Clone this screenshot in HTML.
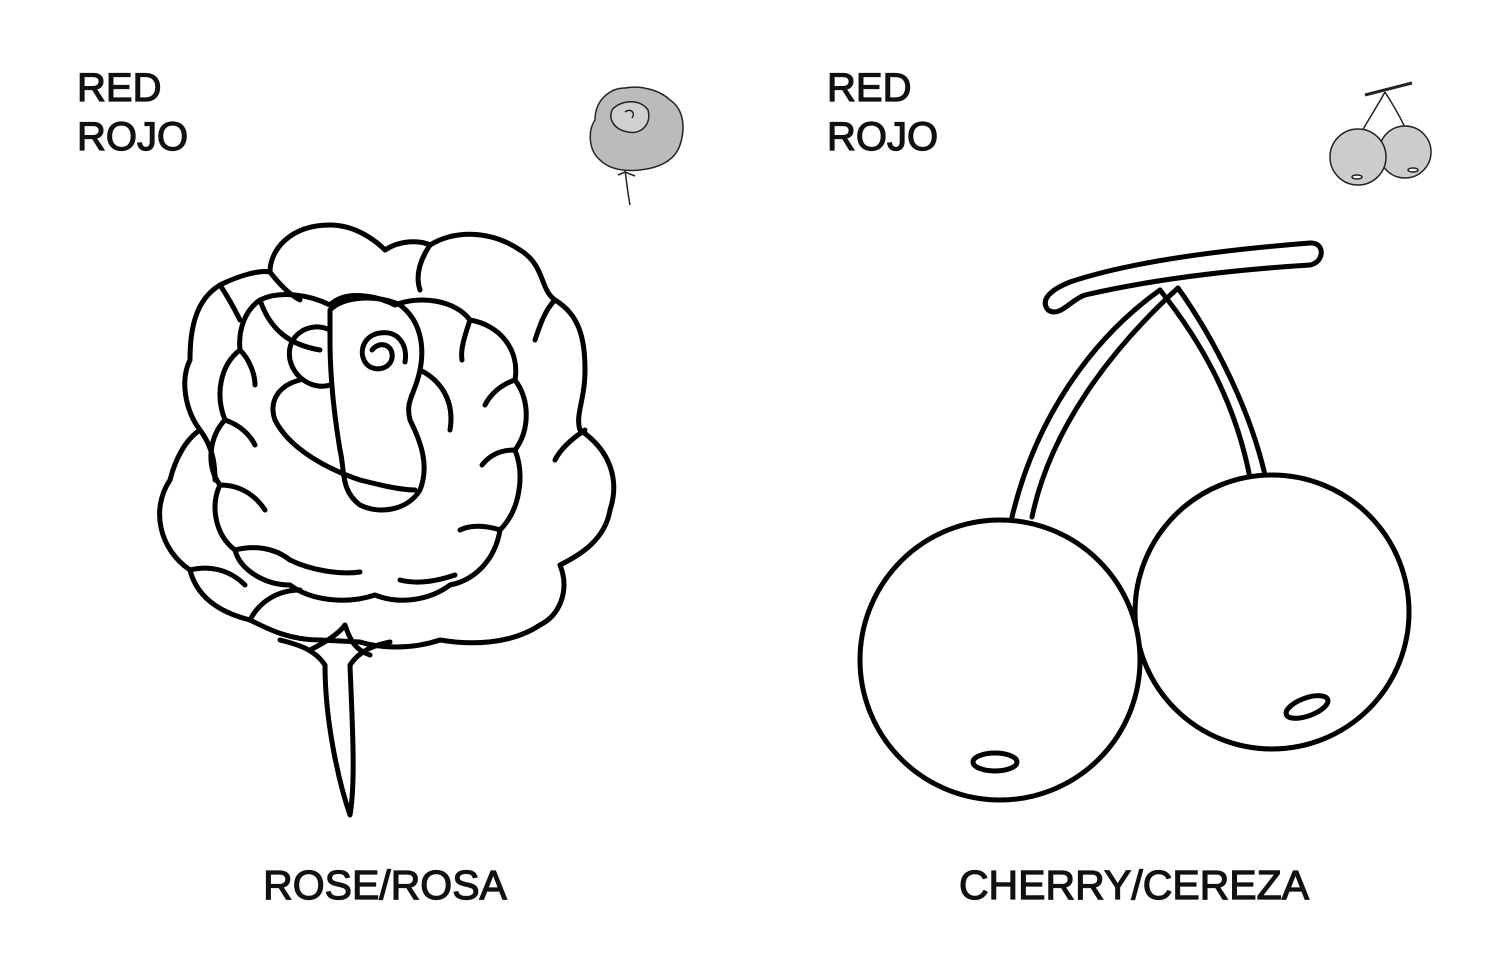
<!DOCTYPE html>
<html><head><meta charset="utf-8"><style>
html,body{margin:0;padding:0;background:#fff;}
svg{display:block;}
text{font-family:"Liberation Sans",Arial,sans-serif;font-weight:normal;fill:#111;stroke:#111;stroke-width:1.2;}
</style></head><body>
<svg width="1500" height="970" viewBox="0 0 1500 970" xmlns="http://www.w3.org/2000/svg">
<text x="77" y="101" font-size="40">RED</text>
<text x="77" y="150" font-size="40">ROJO</text>
<text x="827" y="101" font-size="40">RED</text>
<text x="827" y="150" font-size="40">ROJO</text>
<text x="385" y="899" font-size="41" text-anchor="middle">ROSE/ROSA</text>
<text x="1134" y="899" font-size="41" text-anchor="middle">CHERRY/CEREZA</text>

<!-- Rose -->
<g fill="none" stroke="#000" stroke-width="5" stroke-linecap="round" stroke-linejoin="round">
<path d="M320 640 C290 640 270 630 250 620 C210 610 195 590 190 570 C160 550 150 510 170 480 C175 460 185 440 200 430 C185 410 180 380 190 360 C190 330 195 300 220 285 C240 275 260 270 270 272 C270 250 290 225 330 225 C355 225 375 240 385 250 C400 240 420 240 430 245 C455 230 490 230 520 250 C545 265 540 290 555 300 C580 315 585 340 585 370 C585 400 575 415 580 430 C610 450 620 480 610 510 C605 540 580 555 560 565 C570 590 560 615 540 625 C510 645 470 645 440 640 C410 650 380 648 360 642 Z"/>
<path d="M200 430 C215 450 215 470 215 480"/>
<path d="M220 285 C230 300 235 310 240 320"/>
<path d="M270 272 C280 285 290 295 300 300"/>
<path d="M430 245 C420 260 415 275 420 290"/>
<path d="M555 300 C545 310 540 325 535 340"/>
<path d="M585 430 C570 440 560 450 555 460"/>
<path d="M190 570 C210 565 230 570 245 585"/>
<path d="M250 620 C260 600 280 590 300 590"/>
<path d="M260 300 C280 290 310 295 330 305 C345 290 375 295 395 305 C420 295 455 300 470 320 C500 325 520 350 515 380 C530 400 530 430 515 450 C525 475 520 510 500 530 C495 560 475 580 450 585 C430 600 400 605 375 595 C345 605 310 600 290 585 C265 585 240 570 235 550 C215 535 210 505 220 485 C205 465 210 435 225 420 C215 395 220 365 240 350 C238 330 245 310 260 300 Z"/>
<path d="M240 350 C250 360 255 375 255 385"/>
<path d="M225 420 C240 425 250 435 255 445"/>
<path d="M220 485 C240 485 255 495 265 510"/>
<path d="M235 550 C255 545 275 548 290 560"/>
<path d="M470 320 C465 335 460 350 462 360"/>
<path d="M515 380 C500 385 490 395 485 405"/>
<path d="M515 450 C500 450 490 455 482 465"/>
<path d="M500 530 C485 525 470 525 460 530"/>
<path d="M330 310 C345 295 380 295 400 305 C420 320 425 345 420 370 C415 395 405 400 410 420 C420 440 430 465 420 490 C408 510 380 515 360 505 C340 490 345 470 340 450 C335 420 330 380 330 340 Z"/>
<path d="M260 300 C270 330 290 345 320 350"/>
<path d="M300 380 C280 385 268 400 275 420 C290 450 330 470 360 480 C380 485 400 490 415 490"/>
<path d="M330 330 C310 320 285 335 290 360 C295 380 315 390 330 385"/>
<path d="M420 370 C440 380 455 400 450 430"/>
<path d="M372 350 C380 340 394 345 392 358 C390 370 372 373 365 362 C358 350 365 335 380 333 C398 330 408 345 405 362"/>
<path d="M290 560 C310 570 340 575 360 572"/>
<path d="M400 580 C420 585 440 580 455 575"/>
<path d="M280 640 C300 645 315 650 325 665 C325 720 338 780 350 815 C356 780 352 720 350 665 C360 650 375 645 390 642"/>
<path d="M310 650 C330 640 340 632 345 625 C350 640 355 650 370 655"/>
</g>

<!-- Cherries -->
<g fill="none" stroke="#000" stroke-width="5" stroke-linecap="round" stroke-linejoin="round">
<path d="M1048 310 C1040 300 1050 290 1070 282 C1130 262 1220 250 1310 243 C1325 242 1325 262 1310 265 C1230 270 1150 280 1085 295 C1070 300 1060 318 1048 310 Z"/>
<path d="M1160 290 C1090 340 1035 420 1012 517"/>
<path d="M1178 288 C1110 350 1050 430 1032 517"/>
<path d="M1160 290 C1200 340 1235 400 1250 478"/>
<path d="M1178 288 C1215 340 1250 410 1265 475"/>
<circle cx="1272" cy="612" r="137" fill="#fff"/>
<circle cx="1000" cy="660" r="140" fill="#fff"/>
<ellipse cx="995" cy="762" rx="22" ry="9"/>
<ellipse cx="1307" cy="707" rx="22" ry="9" transform="rotate(-20 1307 707)"/>
</g>

<g stroke="#222" stroke-width="1.5" fill="#bbb">
<path d="M600 160 C588 150 588 130 595 120 C595 100 610 88 625 88 C640 85 660 90 670 100 C685 110 685 130 680 145 C675 160 660 168 640 170 C620 172 608 168 600 160 Z"/>
<path d="M612 110 C620 100 640 98 648 110 C652 125 640 135 628 132 C615 130 608 120 612 110 Z" fill="#d0d0d0"/>
<path d="M625 112 C630 108 636 112 632 118" fill="none"/>
<path d="M625 170 C627 185 628 195 630 205" fill="none"/>
<path d="M618 175 L625 172 L635 176" fill="none"/>
</g>
<g stroke="#222" stroke-width="1.5">
<path d="M1365 95 L1412 83" fill="none" stroke-width="3"/>
<path d="M1385 92 C1375 110 1365 125 1360 135" fill="none"/>
<path d="M1385 92 C1395 108 1402 120 1405 128" fill="none"/>
<circle cx="1405" cy="152" r="26" fill="#ccc"/>
<circle cx="1358" cy="157" r="28" fill="#ccc"/>
<ellipse cx="1357" cy="177" rx="5" ry="2" fill="#fff"/>
<ellipse cx="1413" cy="170" rx="5" ry="2" fill="#fff"/>
</g>
</svg>
</body></html>
